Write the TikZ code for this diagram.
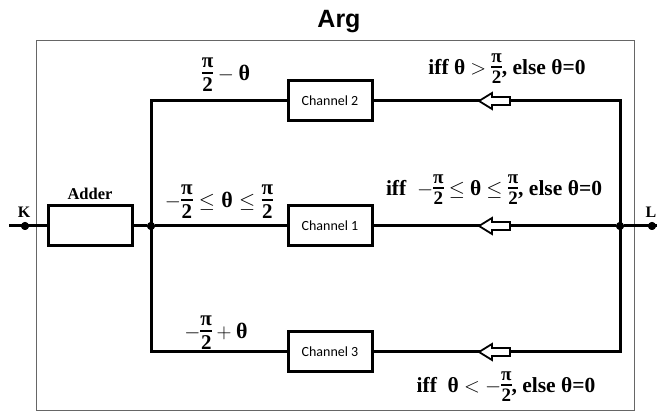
\documentclass[tikz,border=0pt]{standalone}
\usepackage{fontspec}
\usepackage{amsmath}
\setmainfont{Liberation Serif}
\newfontfamily\titlefont{Liberation Sans}
\newfontfamily\chanfont{Carlito}
% stacked pi over 2 with a thick bar: #1 size, #2 gap, #3 bar thickness
\newcommand{\fracpi}[3]{\vcenter{\hbox{\fontsize{#1}{#1}\selectfont\bfseries\vbox{\offinterlineskip\halign{\hfil##\hfil\cr π\cr\noalign{\kern#2\relax\hrule height#3\relax\kern#2\relax}2\cr}}}}}
\newcommand{\thb}{\text{\bfseries θ}}
\newcommand{\lfr}{\fracpi{21}{3.5pt}{2.6pt}}
\newcommand{\rfr}{\fracpi{19}{3pt}{2.3pt}}
\newcommand{\lsp}{\thickmuskip=5.5mu\relax\medmuskip=4mu\relax}
\newcommand{\rsp}{\thickmuskip=4.5mu\relax\medmuskip=4mu\relax}
\begin{document}
\begin{tikzpicture}[x=1pt,y=-1pt,
  wire/.style={line width=3pt},
  blockbox/.style={draw,line width=3pt,minimum width=84pt,minimum height=40pt,inner sep=0pt,fill=white},
  chlabel/.style={font=\chanfont\fontsize{14}{16}\selectfont},
  leftlbl/.style={font=\bfseries\fontsize{22}{26}\selectfont,inner sep=0pt},
  rightlbl/.style={font=\bfseries\fontsize{21.5}{26}\selectfont,inner sep=0pt},
  dotnode/.style={circle,fill=black,minimum size=8pt,inner sep=0pt},
  hollowarrow/.style={draw=black,fill=white,line width=1.8pt,line join=miter}]
\useasboundingbox (0,0) rectangle (657,414);
% frame
\draw[line width=1pt,gray!80!black] (36,41) rectangle (634,411);
% title
\node[font=\titlefont\bfseries\fontsize{25}{30}\selectfont,anchor=base] (title) at (339,28) {Arg};
% blocks
\node[blockbox] (adder) at (90,226) {};
\node[blockbox,chlabel] (ch2) at (330,101) {Channel 2};
\node[blockbox,chlabel] (ch1) at (330,226) {Channel 1};
\node[blockbox,chlabel] (ch3) at (330,352) {Channel 3};
% junctions and terminals
\coordinate (kin) at (9,226);
\node[dotnode] (K) at (25,226) {};
\node[dotnode] (J1) at (151,226) {};
\node[dotnode] (J2) at (620,226) {};
\node[dotnode] (L) at (652,226) {};
\coordinate (lout) at (658,226);
\coordinate (tl) at (151,101);
\coordinate (bl) at (151,352);
\coordinate (tr) at (620,101);
\coordinate (br) at (620,352);
% wires
\draw[wire] (kin) -- (adder.west);
\draw[wire] (adder.east) -- (J1) -- (ch1.west);
\draw[wire,line join=miter] (ch2.west) -- (tl) -- (bl) -- (ch3.west);
\draw[wire,line join=miter] (ch2.east) -- (tr) -- (br) -- (ch3.east);
\draw[wire] (ch1.east) -- (J2) -- (lout);
\node[dotnode] at (K) {};
\node[dotnode] at (J1) {};
\node[dotnode] at (J2) {};
\node[dotnode] at (L) {};
% hollow arrows
\foreach \yy in {101,226,352}{
  \draw[hollowarrow] (479,\yy) -- (492,\yy-8) -- (492,\yy-4) -- (510,\yy-4) -- (510,\yy+4) -- (492,\yy+4) -- (492,\yy+8) -- cycle;
}
% labels
\node[font=\bfseries\fontsize{16.5}{20}\selectfont] (adderlbl) at (90,194) {Adder};
\node[font=\bfseries\fontsize{16}{20}\selectfont] (Klbl) at (24,212) {K};
\node[font=\bfseries\fontsize{16}{20}\selectfont] (Llbl) at (651,212) {L};
\node[leftlbl] (lbl2) at (226,75) {$\lsp\lfr-\thb$};
\node[leftlbl] (lbl1) at (219,202) {$\lsp-\lfr\le\thb\le\lfr$};
\node[leftlbl] (lbl3) at (216,333) {$\lsp-\lfr+\thb$};
\node[rightlbl] (cond2) at (507,69) {iff $\rsp\thb>\rfr$, else θ=0};
\node[rightlbl] (cond1) at (494,190) {iff \ $\rsp-\rfr\le\thb\le\rfr$, else θ=0};
\node[rightlbl] (cond3) at (506,387) {iff \ $\rsp\thb<-\rfr$, else θ=0};
\end{tikzpicture}
\end{document}
